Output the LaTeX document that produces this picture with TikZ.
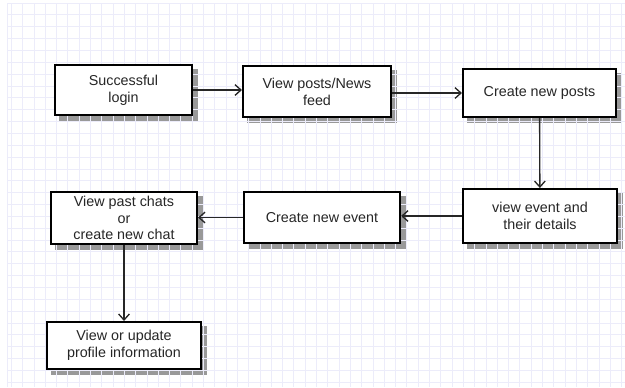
\documentclass[tikz,border=0pt]{standalone}
\usepackage{fontspec}
\setmainfont{Liberation Sans}
\usetikzlibrary{arrows.meta,backgrounds}

\definecolor{gridcol}{RGB}{236,236,250}
\definecolor{inkcol}{RGB}{38,38,38}

\tikzset{every picture/.style={line width=0.75pt}}
\tikzset{
  flowbox/.style={draw=black, line width=1.5pt, fill=white, text=inkcol, align=center,
    font=\fontsize{10.75}{12.6}\selectfont, inner sep=0pt},
  flowline/.style={draw=inkcol, line width=1pt, -{Straight Barb[length=4.5pt,width=8pt]}}
}

\begin{document}
\begin{tikzpicture}[x=0.75pt,y=0.75pt,yscale=-1,xscale=1]
	\path[use as bounding box] (0,0) rectangle (625,387);

	%Grid
	\draw[gridcol, line width=0.6pt, shift={(0,3)}, xstep=8.475pt, ystep=8.8875pt] (7,0) grid (625,384);
	\draw[gridcol, line width=0.6pt] (7,387) -- (7,3) -- (625,3);

	%Shape: Rectangle [id:login]
	\node[flowbox, minimum width=102.75pt, minimum height=37.5pt] (login) at (123.5,90) {Successful\\login};
	%Shape: Rectangle [id:feed]
	\node[flowbox, minimum width=111pt, minimum height=38.25pt] (feed) at (317,91.5) {View posts/News\\feed};
	%Shape: Rectangle [id:newpost]
	\node[flowbox, minimum width=114.75pt, minimum height=36pt] (newpost) at (539.5,93) {Create new posts};
	%Shape: Rectangle [id:viewevent]
	\node[flowbox, minimum width=115.5pt, minimum height=40.5pt] (viewevent) at (540,216) {view event and\\their details};
	%Shape: Rectangle [id:newevent]
	\node[flowbox, minimum width=117pt, minimum height=38.25pt] (newevent) at (322,217.5) {Create new event};
	%Shape: Rectangle [id:chats]
	\node[flowbox, minimum width=109.5pt, minimum height=39pt] (chats) at (124,218) {View past chats\\or\\create new chat};
	%Shape: Rectangle [id:profile]
	\node[flowbox, minimum width=115.5pt, minimum height=35.25pt] (profile) at (124,345.5) {View or update\\profile information};

	%Shadows
	\begin{scope}[on background layer]
	\foreach \n in {login,feed,newpost,viewevent,newevent,chats,profile}
		\fill[black!40] ([shift={(5,5)}]\n.south west) rectangle ([shift={(5,5)}]\n.north east);
	\end{scope}

	%Straight Lines
	\draw[flowline] (login) -- (login -| feed.west);
	\draw[flowline] (newpost -| feed.east) -- (newpost);
	\draw[flowline] (newpost) -- (viewevent);
	\draw[flowline] (viewevent) -- (viewevent -| newevent.east);
	\draw[flowline] (newevent) -- (newevent -| chats.east);
	\draw[flowline] (chats) -- (profile);

\end{tikzpicture}
\end{document}
